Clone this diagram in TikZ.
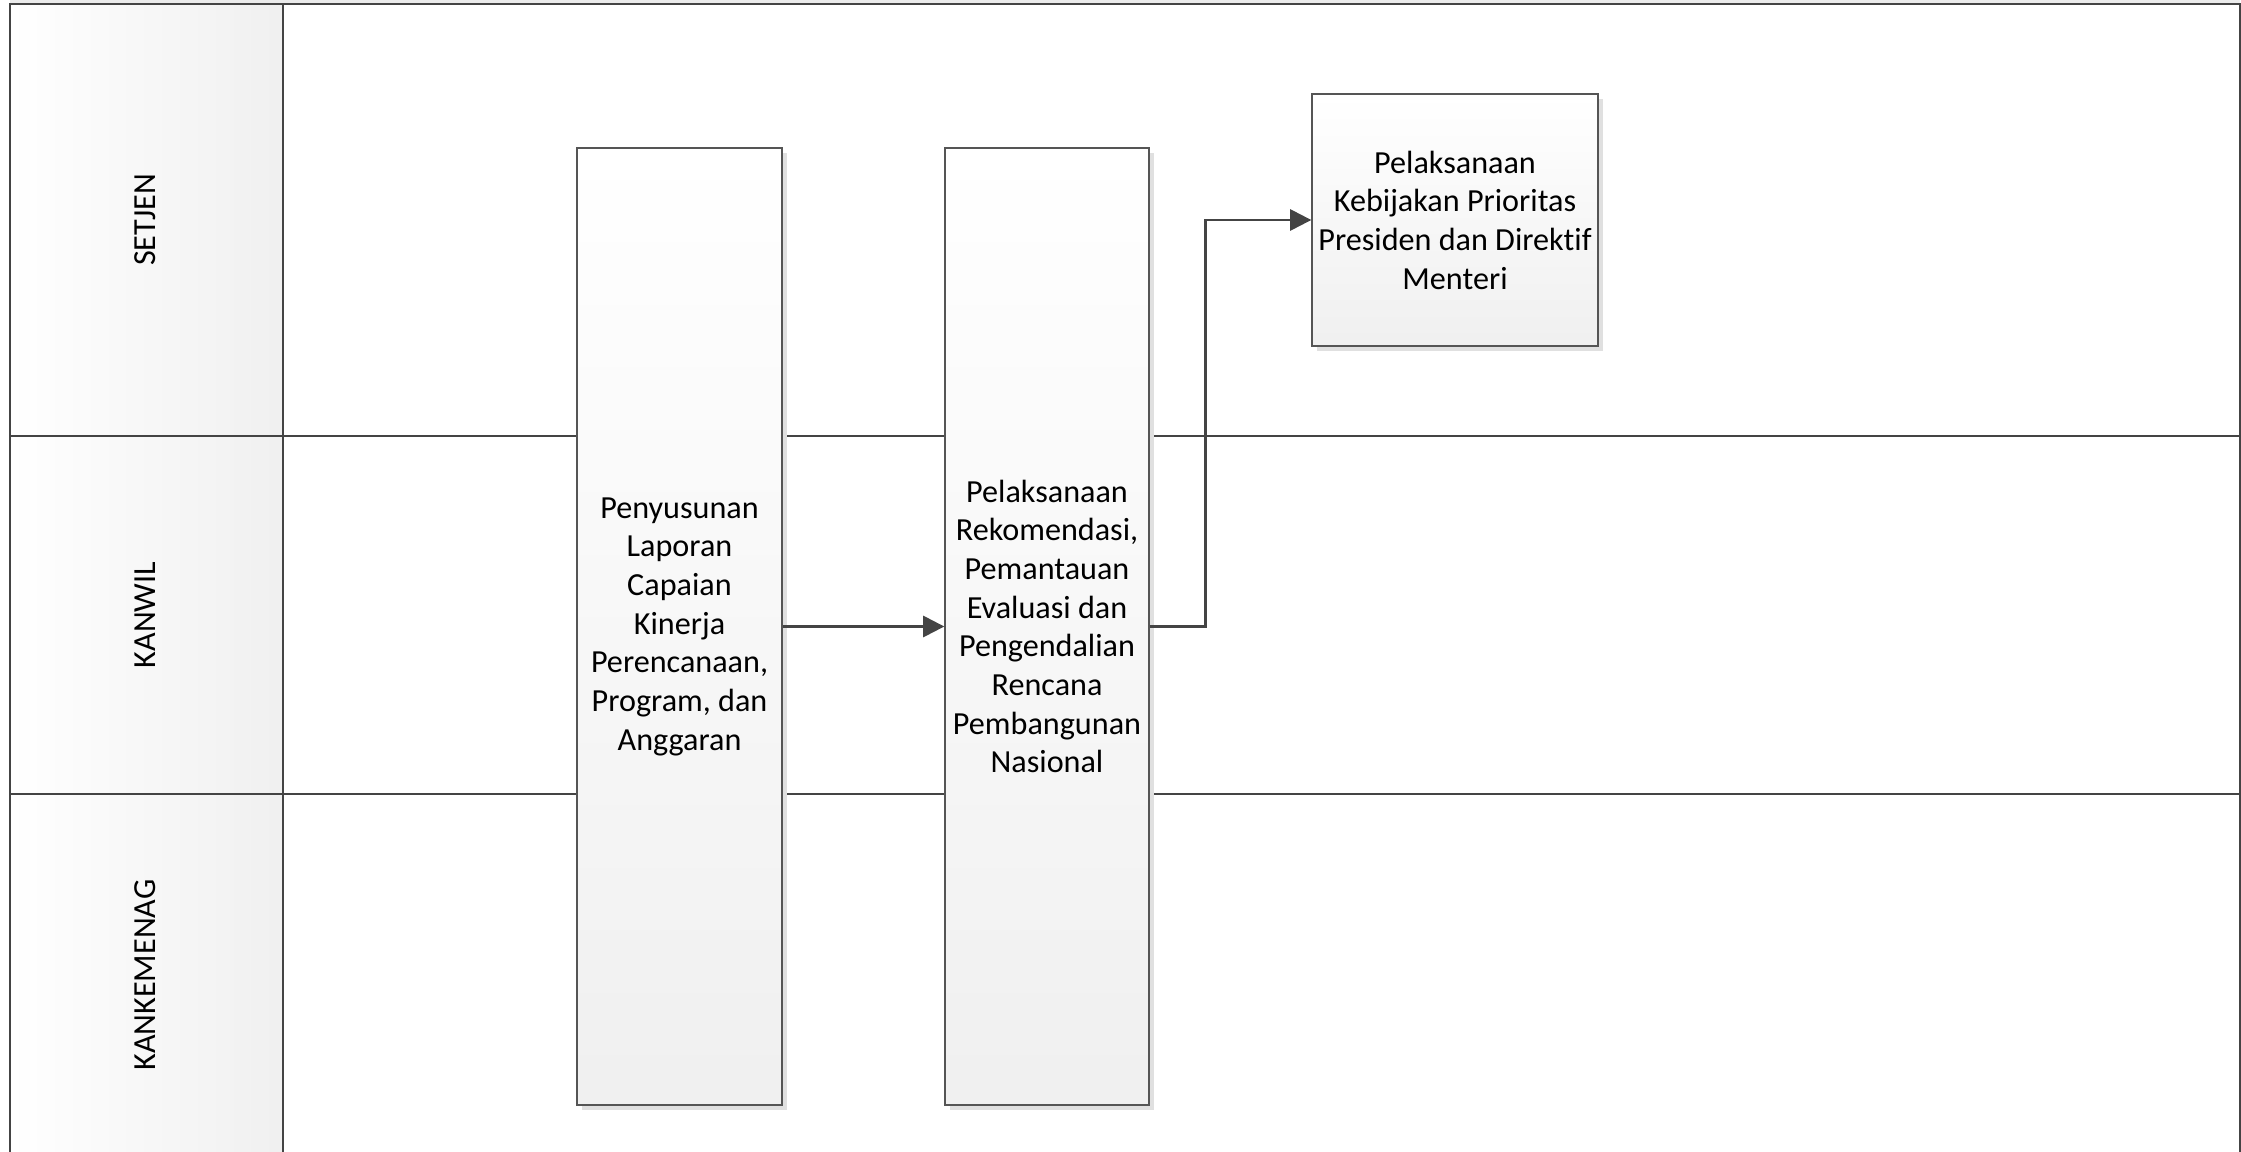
\documentclass[tikz,border=0pt]{standalone}
\usepackage{fontspec}
\setmainfont{Carlito}[Ligatures=NoCommon]
\usetikzlibrary{arrows.meta,shadows}
\definecolor{lanegray}{RGB}{68,68,68}
\definecolor{boxgray}{RGB}{85,85,85}
\newcommand{\flowfont}{\fontsize{9.15}{11}\selectfont}
\tikzset{
  lane/.style={draw=lanegray,line width=0.6pt},
  lanelabel/.style={rotate=90,font=\flowfont},
  process/.style={draw=boxgray,line width=0.4pt,top color=white,bottom color=black!6,
    align=center,font=\flowfont,inner sep=0pt,
    drop shadow={shadow xshift=1.3pt,shadow yshift=-1.3pt,fill=black!12,opacity=1}},
  flow/.style={draw=lanegray,line width=0.7pt,-{Triangle[length=6pt,width=6pt]}}
}

\begin{document}
\begin{tikzpicture}
    \useasboundingbox (0,0) rectangle (22.41,11.51);
    % pool and lanes
    \fill[black!8] (0.10,11.47) rectangle (22.40,11.51);
    \shade[left color=white,right color=black!6] (0.10,-0.1) rectangle (2.83,11.47);
    \draw[lane] (0.10,-0.1) -- (0.10,11.47) -- (22.40,11.47) -- (22.40,-0.1);
    \draw[lane] (2.83,-0.1) -- (2.83,11.47);
    \draw[lane] (0.10,7.15) -- (22.40,7.15);
    \draw[lane] (0.10,3.57) -- (22.40,3.57);
    \node[lanelabel] (setjen) at (1.45,9.31) {SETJEN};
    \node[lanelabel] (kanwil) at (1.45,5.36) {KANWIL};
    \node[lanelabel] (kankemenag) at (1.45,1.76) {KANKEMENAG};

    % activities
    \node[process,minimum width=2.05cm,minimum height=9.57cm] (laporan) at (6.795,5.245)
        {Penyusunan\\Laporan\\Capaian\\Kinerja\\Perencanaan,\\Program, dan\\Anggaran};
    \node[process,minimum width=2.04cm,minimum height=9.57cm] (rekomendasi) at (10.47,5.245)
        {Pelaksanaan\\Rekomendasi,\\Pemantauan\\Evaluasi dan\\Pengendalian\\Rencana\\Pembangunan\\Nasional};
    \node[process,minimum width=2.86cm,minimum height=2.52cm] (kebijakan) at (14.55,9.31)
        {Pelaksanaan\\Kebijakan Prioritas\\Presiden dan Direktif\\Menteri};

    \draw[flow] (laporan.east) -- (rekomendasi.west);
    \draw[flow] (rekomendasi.east) -- ++(0.56,0) |- (kebijakan.west);
\end{tikzpicture}
\end{document}
